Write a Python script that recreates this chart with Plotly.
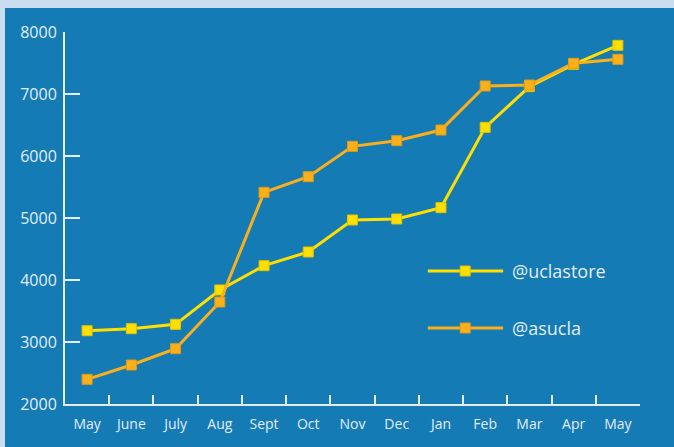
import plotly.graph_objects as go

months = ["May", "June", "July", "Aug", "Sept", "Oct", "Nov", "Dec", "Jan", "Feb", "Mar", "Apr", "May "]
uclastore = [3182, 3215, 3285, 3839, 4231, 4452, 4968, 4984, 5167, 6462, 7118, 7478, 7785]
asucla = [2398, 2629, 2892, 3645, 5414, 5666, 6156, 6247, 6419, 7129, 7145, 7495, 7559]
y_ticks = [2000, 3000, 4000, 5000, 6000, 7000, 8000]
tick_text = ["May", "June", "July", "Aug", "Sept", "Oct", "Nov", "Dec", "Jan", "Feb", "Mar", "Apr", "May"]

YELLOW = "#ffdf00"
ORANGE = "#fbb01b"
PANEL = "#157bb5"
BORDER = "#c8ddef"
TEXT = "#e3eef8"
FONT = "Open Sans"

fig = go.Figure()
fig.add_trace(go.Scatter(
    x=months, y=uclastore, mode="lines+markers", name="@uclastore",
    line=dict(color=YELLOW, width=3),
    marker=dict(symbol="square", size=10, color=YELLOW, line=dict(color="#e3c300", width=1)),
    showlegend=False,
))
fig.add_trace(go.Scatter(
    x=months, y=asucla, mode="lines+markers", name="@asucla",
    line=dict(color=ORANGE, width=3),
    marker=dict(symbol="square", size=10, color=ORANGE, line=dict(color="#e39a12", width=1)),
    showlegend=False,
))

# custom legend drawn on an invisible overlay axis
legend_items = [("@uclastore", YELLOW, "#e3c300", 0.3575), ("@asucla", ORANGE, "#e39a12", 0.2043)]
for label, col, edge, ly in legend_items:
    fig.add_trace(go.Scatter(
        x=[0.631, 0.762], y=[ly, ly], mode="lines", xaxis="x2", yaxis="y2",
        line=dict(color=col, width=3), showlegend=False, hoverinfo="skip",
    ))
    fig.add_trace(go.Scatter(
        x=[0.696], y=[ly], mode="markers", xaxis="x2", yaxis="y2",
        marker=dict(symbol="square", size=10, color=col, line=dict(color=edge, width=1)),
        showlegend=False, hoverinfo="skip",
    ))
    fig.add_annotation(
        x=0.774, y=ly, xref="x2", yref="y2", text=label, showarrow=False,
        xanchor="left", yanchor="middle", font=dict(family=FONT, size=18, color=TEXT),
    )

fig.update_layout(
    width=674, height=447,
    margin=dict(l=65, r=34, t=32, b=43),
    paper_bgcolor=PANEL, plot_bgcolor=PANEL,
    font=dict(family=FONT, color=TEXT),
    xaxis=dict(
        type="category", range=[-0.5, 12.5],
        tickmode="array", tickvals=months, ticktext=tick_text,
        tickson="boundaries", ticks="inside", ticklen=9, tickwidth=2, tickcolor=TEXT,
        showline=True, linecolor=TEXT, linewidth=2, showgrid=False, zeroline=False,
        tickfont=dict(family=FONT, size=14, color=TEXT), ticklabelstandoff=6,
    ),
    yaxis=dict(
        range=[2000, 8000], tickvals=y_ticks,
        ticks="inside", ticklen=15, tickwidth=2, tickcolor=TEXT,
        showline=True, linecolor=TEXT, linewidth=2, showgrid=False, zeroline=False,
        tickfont=dict(family=FONT, size=16, color=TEXT), ticklabelstandoff=3,
    ),
    xaxis2=dict(overlaying="x", range=[0, 1], visible=False, fixedrange=True),
    yaxis2=dict(overlaying="y", range=[0, 1], visible=False, fixedrange=True),
    shapes=[
        dict(type="rect", xref="paper", yref="paper", x0=-0.2, x1=1.2,
             y0=1.0 + 24 / 372, y1=1.2, fillcolor=BORDER, line=dict(width=0), layer="below"),
        dict(type="rect", xref="paper", yref="paper", x0=-0.2, x1=-60 / 575,
             y0=-0.2, y1=1.2, fillcolor=BORDER, line=dict(width=0), layer="below"),
    ],
)

fig.write_html(
    "out.html",
    config={"displayModeBar": False},
    post_script="document.body.style.margin='0';document.body.style.overflow='hidden';",
)
